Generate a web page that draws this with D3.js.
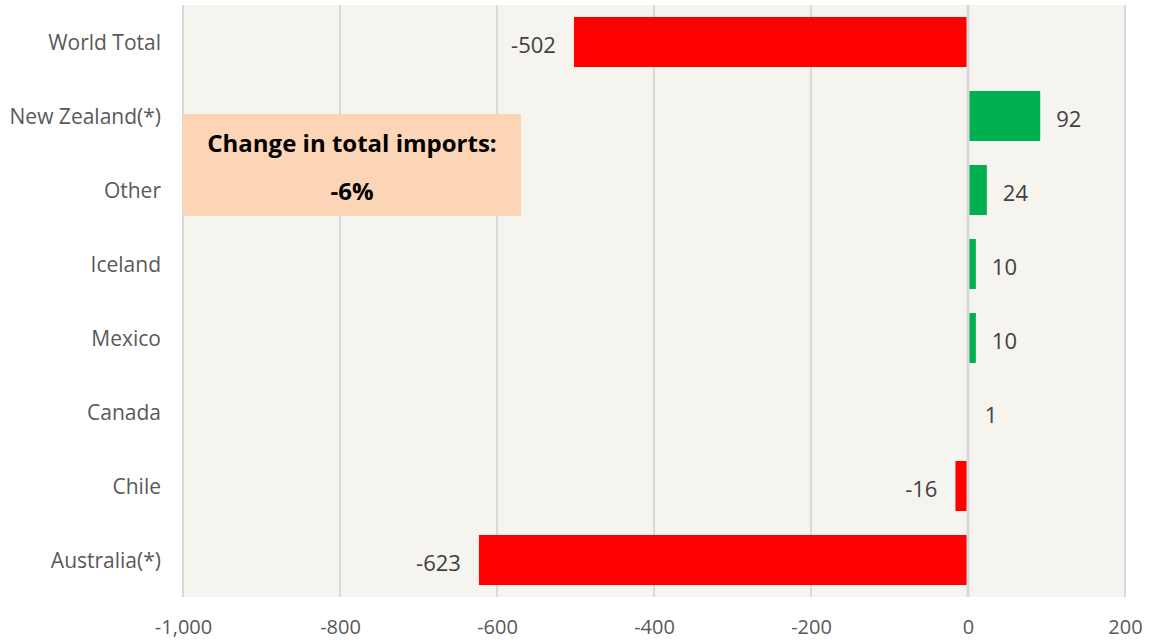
<!DOCTYPE html>
<html>
<head>
<meta charset="utf-8">
<script src="https://cdn.jsdelivr.net/npm/d3@7"></script>
<style>
  body { margin: 0; background: #ffffff; }
  svg text { font-family: "Open Sans", sans-serif; }
</style>
</head>
<body>
<svg></svg>
<script>
// data, top row first
const categories = ["World Total", "New Zealand(*)", "Other", "Iceland", "Mexico", "Canada", "Chile", "Australia(*)"];
const changes = [-502, 92, 24, 10, 10, 1, -16, -623];
const xTicks = [-1000, -800, -600, -400, -200, 0, 200];
const noteLines = ["Change in total imports:", "-6%"];

const width = 1151, height = 642;
const margin = { top: 5, right: 26, bottom: 45, left: 183 };

const svg = d3.select("svg").attr("width", width).attr("height", height);

const x = d3.scaleLinear()
    .domain([-1000, 200])
    .range([margin.left, width - margin.right]);

const y = d3.scaleBand()
    .domain(categories)
    .range([margin.top, height - margin.bottom])
    .paddingInner(0.324)
    .paddingOuter(0.162);

// plot background
svg.append("rect")
    .attr("x", margin.left).attr("y", margin.top)
    .attr("width", x(200) - x(-1000))
    .attr("height", height - margin.bottom - margin.top)
    .attr("fill", "#f6f4ef");

// vertical gridlines
svg.append("g")
    .selectAll("line")
    .data(xTicks.filter(d => d !== 0))
    .enter().append("line")
    .attr("x1", d => x(d)).attr("x2", d => x(d))
    .attr("y1", margin.top).attr("y2", height - margin.bottom)
    .attr("stroke", "#d9d9d9")
    .attr("stroke-width", 2);

// x axis labels (plain hyphen, like the original)
const fmt = d3.format(",");
const xAxis = svg.append("g")
    .attr("transform", "translate(0," + (height - margin.bottom) + ")")
    .call(d3.axisBottom(x).tickValues(xTicks).tickSize(0).tickPadding(23)
        .tickFormat(d => fmt(d).replace("\u2212", "-")));
xAxis.select(".domain").remove();
xAxis.selectAll("text")
    .attr("fill", "#595959")
    .style("font-size", "20px");

// bars
const data = categories.map((c, i) => ({ name: c, value: changes[i] }));

svg.append("g")
    .selectAll("rect")
    .data(data)
    .enter().append("rect")
    .attr("x", d => x(Math.min(0, d.value)))
    .attr("y", d => y(d.name))
    .attr("width", d => Math.abs(x(d.value) - x(0)))
    .attr("height", y.bandwidth())
    .attr("fill", d => d.value < 0 ? "#ff0000" : "#00b050");

// zero line on top of the bars
svg.append("line")
    .attr("x1", x(0)).attr("x2", x(0))
    .attr("y1", margin.top).attr("y2", height - margin.bottom)
    .attr("stroke", "#d9d9d9")
    .attr("stroke-width", 3);

// value labels
svg.append("g")
    .selectAll("text")
    .data(data)
    .enter().append("text")
    .attr("x", d => d.value < 0 ? x(d.value) - 18 : x(d.value) + 16)
    .attr("y", d => y(d.name) + y.bandwidth() / 2 + 11)
    .attr("text-anchor", d => d.value < 0 ? "end" : "start")
    .attr("fill", "#404040")
    .style("font-size", "22px")
    .text(d => d.value);

// category labels
svg.append("g")
    .selectAll("text")
    .data(categories)
    .enter().append("text")
    .attr("x", margin.left - 22)
    .attr("y", d => y(d) + y.bandwidth() / 2 + 8)
    .attr("text-anchor", "end")
    .attr("fill", "#595959")
    .style("font-size", "21px")
    .text(d => d);

// annotation box
const note = svg.append("g");
note.append("rect")
    .attr("x", margin.left).attr("y", 114)
    .attr("width", 338).attr("height", 102)
    .attr("fill", "#fbd5b5");
note.selectAll("text")
    .data(noteLines)
    .enter().append("text")
    .attr("x", margin.left + 169)
    .attr("y", (d, i) => 152 + i * 48)
    .attr("text-anchor", "middle")
    .attr("fill", "#000000")
    .style("font-size", "24px")
    .style("font-weight", "bold")
    .text(d => d);
</script>
</body>
</html>
